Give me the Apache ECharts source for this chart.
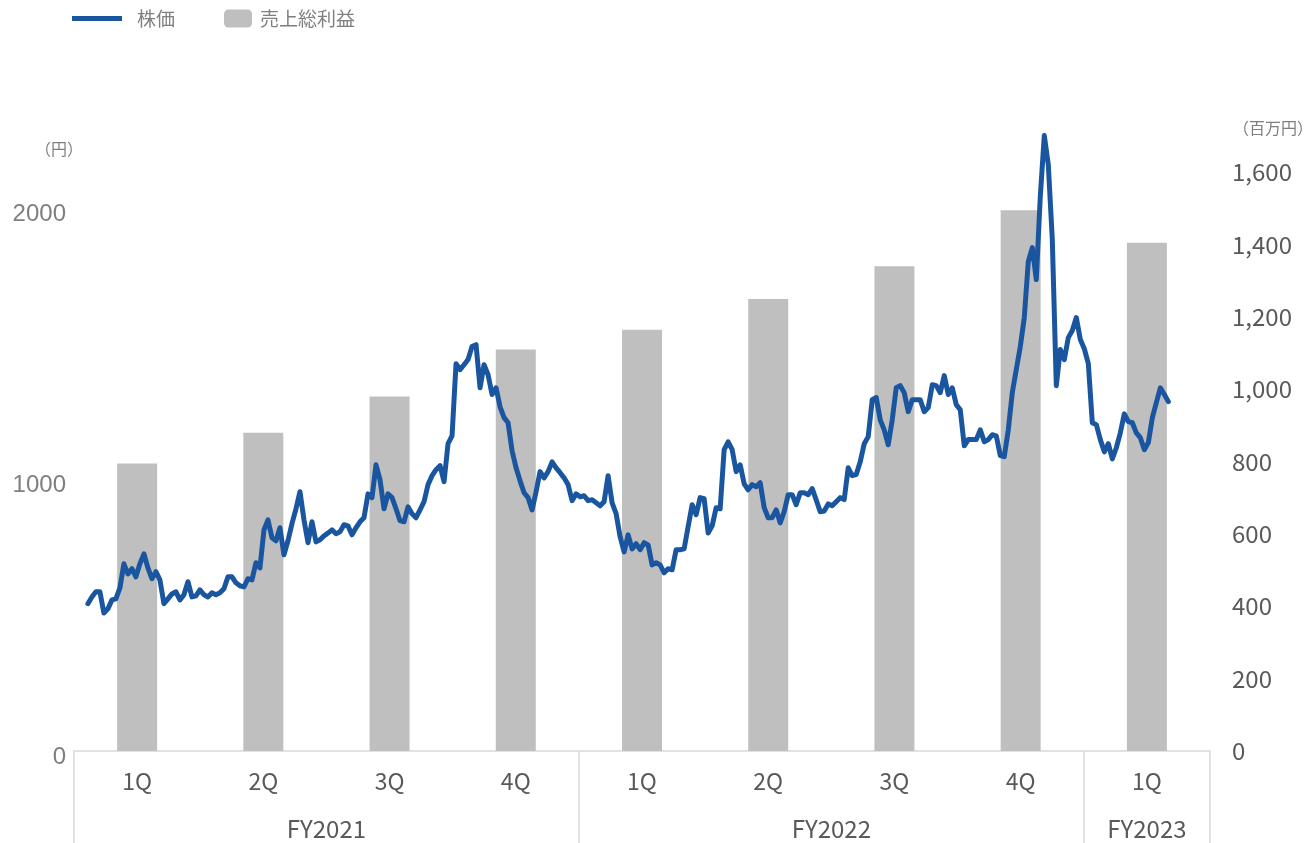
<!DOCTYPE html>
<html>
<head>
<meta charset="utf-8">
<script src="https://cdn.jsdelivr.net/npm/echarts@6/dist/echarts.min.js"></script>
<style>
  html, body { margin: 0; padding: 0; background: #ffffff; }
  #chart { width: 1309px; height: 843px; }
</style>
</head>
<body>
<div id="chart"></div>
<script>
// Quarters on the category axis and the fiscal years that group them
const quarters = ['1Q', '2Q', '3Q', '4Q', '1Q', '2Q', '3Q', '4Q', '1Q'];
const fiscalYears = ['FY2021', 'FY2022', 'FY2023'];
const quartersPerYear = [4, 4, 1];

// Gross profit per quarter (million yen)
const grossProfit = [795, 880, 980, 1110, 1165, 1250, 1340, 1495, 1405];

// Share price (yen), evenly spaced in time from priceStartQ to priceEndQ (in quarters)
const priceStartQ = 0.11;
const priceEndQ = 8.67;
const price = [
  543, 568, 587, 587, 509, 524, 557, 561, 601, 690,
  653, 672, 642, 690, 727, 675, 635, 661, 631, 543,
  561, 579, 587, 557, 576, 624, 568, 572, 594, 576,
  568, 583, 576, 583, 598, 642, 642, 620, 609, 605,
  635, 631, 694, 675, 815, 852, 786, 775, 823, 723,
  775, 838, 893, 956, 852, 768, 845, 771, 779, 793,
  804, 815, 801, 808, 834, 830, 797, 823, 845, 860,
  948, 934, 1055, 1000, 893, 948, 934, 893, 849, 845,
  900, 875, 860, 889, 919, 982, 1015, 1037, 1052, 993,
  1133, 1162, 1428, 1406, 1424, 1443, 1491, 1498, 1339, 1424,
  1387, 1314, 1339, 1269, 1229, 1210, 1107, 1044, 996, 952,
  934, 889, 956, 1030, 1007, 1030, 1066, 1044, 1026, 1007,
  982, 923, 948, 937, 941, 923, 926, 915, 904, 919,
  1015, 915, 875, 790, 734, 797, 745, 764, 742, 768,
  760, 686, 694, 686, 657, 672, 668, 742, 742, 745,
  827, 908, 871, 934, 930, 804, 830, 897, 893, 1111,
  1140, 1111, 1030, 1055, 985, 963, 982, 974, 989, 897,
  860, 860, 889, 841, 882, 945, 945, 908, 952, 952,
  945, 967, 926, 882, 885, 911, 904, 919, 934, 927,
  1044, 1015, 1019, 1066, 1133, 1159, 1295, 1303, 1221, 1184,
  1129, 1221, 1339, 1347, 1321, 1251, 1295, 1295, 1295, 1251,
  1266, 1350, 1347, 1321, 1384, 1314, 1339, 1277, 1258, 1125,
  1148, 1148, 1148, 1184, 1140, 1148, 1166, 1162, 1089, 1085,
  1184, 1321, 1406, 1491, 1598, 1804, 1856, 1738, 2044, 2269,
  2162, 1886, 1347, 1480, 1443, 1524, 1550, 1598, 1517, 1483,
  1428, 1210, 1203, 1148, 1103, 1133, 1077, 1118, 1173, 1243,
  1214, 1210, 1173, 1155, 1111, 1137, 1229, 1284, 1339, 1314,
  1288
];

// Axis tick values
const yenTicks = [0, 1000, 2000];
const profitTicks = [0, 200, 400, 600, 800, 1000, 1200, 1400, 1600];

// Fiscal-year boundaries and centres, in quarter units
const yearBounds = [0];
quartersPerYear.forEach(n => yearBounds.push(yearBounds[yearBounds.length - 1] + n));
const yearCenters = quartersPerYear.map((n, i) => yearBounds[i] + n / 2);
const totalQuarters = yearBounds[yearBounds.length - 1];

const priceStep = (priceEndQ - priceStartQ) / (price.length - 1);
const priceSeries = price.map((p, i) => [priceStartQ + i * priceStep, p]);

const jpFont = '"Noto Sans CJK JP", "Noto Sans", sans-serif';
const gridLine = '#d9d9d9';
const priceBlue = '#1a56a0';

const chart = echarts.init(document.getElementById('chart'), null, { renderer: 'canvas' });

chart.setOption({
  animation: false,
  backgroundColor: '#ffffff',
  grid: { left: 74, right: 99, top: 100, bottom: 92, containLabel: false, outerBoundsMode: 'none' },
  legend: [
    {
      data: [{ name: '株価', icon: 'rect' }],
      left: 72, top: 9, padding: 0,
      itemWidth: 50, itemHeight: 5,
      textStyle: { color: '#7f7f7f', fontSize: 19, fontFamily: jpFont, padding: [0, 0, 0, 10] }
    },
    {
      data: ['売上総利益'],
      left: 224, top: 9, padding: 0,
      itemWidth: 28, itemHeight: 18,
      textStyle: { color: '#7f7f7f', fontSize: 19, fontFamily: jpFont, padding: [0, 0, 0, 3] }
    }
  ],
  xAxis: [
    {
      type: 'category',
      data: quarters,
      position: 'bottom',
      axisLine: { show: true, lineStyle: { color: gridLine, width: 1.5 } },
      axisTick: { show: false },
      axisLabel: { color: '#595959', fontSize: 23, fontFamily: jpFont, margin: 19 },
      splitLine: { show: false }
    },
    {
      type: 'value',
      min: 0,
      max: totalQuarters,
      position: 'bottom',
      axisLine: { show: false },
      splitLine: { show: false },
      axisTick: {
        show: true,
        customValues: yearBounds,
        length: 92,
        lineStyle: { color: gridLine, width: 1.5 }
      },
      axisLabel: {
        customValues: yearCenters,
        formatter: v => fiscalYears[yearCenters.indexOf(v)] || '',
        color: '#595959', fontSize: 24, fontFamily: jpFont, margin: 66
      }
    }
  ],
  yAxis: [
    {
      type: 'value',
      position: 'left',
      min: 0,
      max: 2400,
      name: '（円）',
      nameLocation: 'end',
      nameGap: -57,
      nameTextStyle: { color: '#7f7f7f', fontSize: 16, fontFamily: jpFont, padding: [0, 30, 0, 0] },
      axisLine: { show: false },
      axisTick: { show: false },
      splitLine: { show: false },
      axisLabel: {
        customValues: yenTicks,
        formatter: v => String(v),
        color: '#7f7f7f', fontSize: 24, fontFamily: '"Liberation Sans", Arial, sans-serif',
        margin: 8, verticalAlign: 'top', lineHeight: 12
      }
    },
    {
      type: 'value',
      position: 'right',
      min: 0,
      max: 1800,
      name: '（百万円）',
      nameLocation: 'end',
      nameGap: -36,
      nameTextStyle: { color: '#7f7f7f', fontSize: 16, fontFamily: jpFont, padding: [0, 0, 0, 126] },
      axisLine: { show: false },
      axisTick: { show: false },
      splitLine: { show: false },
      axisLabel: {
        customValues: profitTicks,
        formatter: v => v.toLocaleString('en-US'),
        color: '#595959', fontSize: 24, fontFamily: jpFont, margin: 22
      }
    }
  ],
  series: [
    {
      name: '売上総利益',
      type: 'bar',
      xAxisIndex: 0,
      yAxisIndex: 1,
      data: grossProfit,
      barWidth: 40,
      itemStyle: { color: '#bfbfbf' },
      z: 2
    },
    {
      name: '株価',
      type: 'line',
      xAxisIndex: 1,
      yAxisIndex: 0,
      data: priceSeries,
      showSymbol: false,
      symbol: 'none',
      lineStyle: { color: priceBlue, width: 5, join: 'round', cap: 'round' },
      itemStyle: { color: priceBlue },
      z: 3
    }
  ]
});
</script>
</body>
</html>
